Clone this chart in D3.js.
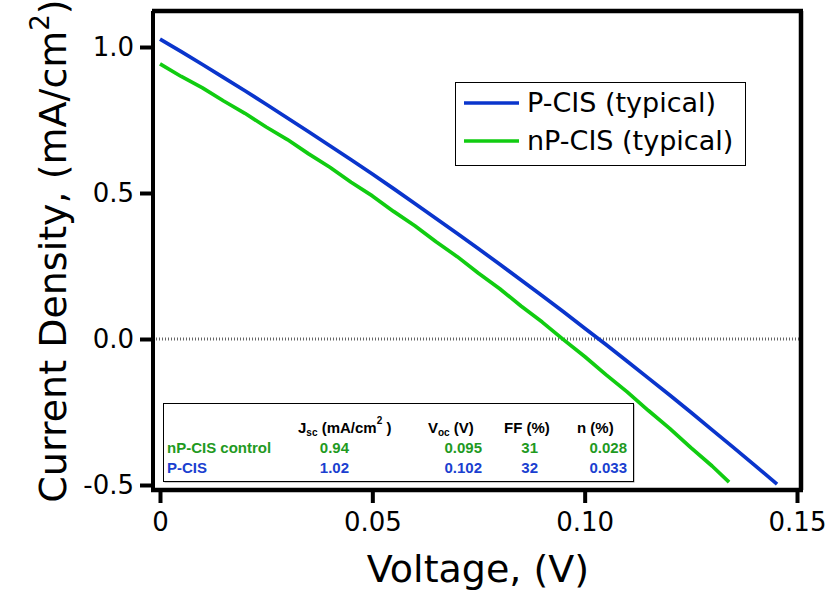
<!DOCTYPE html>
<html>
<head>
<meta charset="utf-8">
<script src="https://cdn.jsdelivr.net/npm/d3@7"></script>
<style>
  body { margin: 0; background: #fff; }
  svg { display: block; font-family: "DejaVu Sans", sans-serif; }
</style>
</head>
<body>
<div id="chart"></div>
<script>
// J-V curves
var pcisV = [0, 0.005, 0.01, 0.015, 0.02, 0.025, 0.03, 0.035, 0.04, 0.045, 0.05, 0.055, 0.06, 0.065, 0.07, 0.075, 0.08, 0.085, 0.09, 0.095, 0.10, 0.105, 0.11, 0.115, 0.12, 0.125, 0.13, 0.135, 0.14, 0.1453];
var pcisJ = [1.027, 0.984, 0.940, 0.895, 0.850, 0.804, 0.757, 0.710, 0.662, 0.614, 0.565, 0.515, 0.464, 0.413, 0.361, 0.309, 0.256, 0.202, 0.148, 0.093, 0.037, -0.019, -0.076, -0.134, -0.192, -0.251, -0.311, -0.371, -0.432, -0.497];

var npcisV = [0, 0.005, 0.01, 0.015, 0.02, 0.025, 0.03, 0.035, 0.04, 0.045, 0.05, 0.055, 0.06, 0.065, 0.07, 0.075, 0.08, 0.085, 0.09, 0.095, 0.10, 0.105, 0.11, 0.115, 0.12, 0.125, 0.13, 0.134];
var npcisJ = [0.942, 0.899, 0.860, 0.815, 0.773, 0.726, 0.683, 0.634, 0.588, 0.537, 0.490, 0.437, 0.388, 0.333, 0.282, 0.225, 0.172, 0.113, 0.058, -0.002, -0.060, -0.122, -0.181, -0.245, -0.306, -0.372, -0.435, -0.490];

var xTicks = [0, 0.05, 0.10, 0.15];
var xTickLabels = ["0", "0.05", "0.10", "0.15"];
var yTicks = [-0.5, 0, 0.5, 1.0];
var yTickLabels = ["-0.5", "0.0", "0.5", "1.0"];

var legendNames = ["P-CIS (typical)", "nP-CIS (typical)"];
var seriesColors = ["#0a35cc", "#11cc11"];

// table of cell parameters
var tableRows = ["nP-CIS control", "P-CIS"];
var tableColors = ["#1f9a1f", "#1a3fd0"];
var jscVals = ["0.94", "1.02"];
var vocVals = ["0.095", "0.102"];
var ffVals = ["31", "32"];
var etaVals = ["0.028", "0.033"];

var width = 832, height = 592;
var box = {left: 153, right: 801, top: 11, bottom: 490};

var x = d3.scaleLinear().domain([0, 0.15]).range([160, 797]);
var y = d3.scaleLinear().domain([-0.5, 1.0]).range([485, 47]);

var svg = d3.select("#chart").append("svg")
	.attr("width", width)
	.attr("height", height);

// zero line
svg.append("line")
	.attr("x1", box.left).attr("x2", box.right)
	.attr("y1", y(0)).attr("y2", y(0))
	.attr("stroke", "#666")
	.attr("stroke-width", 3)
	.attr("stroke-dasharray", "1,2");

// curves
var line = d3.line().x(d => x(d[0])).y(d => y(d[1]));
var series = [d3.zip(pcisV, pcisJ), d3.zip(npcisV, npcisJ)];

svg.append("g")
	.selectAll("path")
	.data(series)
	.join("path")
		.attr("d", line)
		.attr("fill", "none")
		.attr("stroke", (d, i) => seriesColors[i])
		.attr("stroke-width", 3.7)
		.attr("stroke-linejoin", "round");

// frame
svg.append("line").attr("x1", box.left - 1).attr("x2", box.right + 2).attr("y1", box.top).attr("y2", box.top)
	.attr("stroke", "#000").attr("stroke-width", 4.5);
svg.append("line").attr("x1", box.right).attr("x2", box.right).attr("y1", box.top).attr("y2", box.bottom)
	.attr("stroke", "#000").attr("stroke-width", 4.5);

// axes
var yAxis = d3.axisLeft(y)
	.tickValues(yTicks)
	.tickFormat((d, i) => yTickLabels[i])
	.tickSize(13)
	.tickSizeOuter(0)
	.tickPadding(6);

var xAxis = d3.axisBottom(x)
	.tickValues(xTicks)
	.tickFormat((d, i) => xTickLabels[i])
	.tickSize(13)
	.tickSizeOuter(0)
	.tickPadding(10);

var gy = svg.append("g")
	.attr("transform", `translate(${box.left},0)`)
	.call(yAxis);
gy.select(".domain").remove();
gy.append("line").attr("x1", 0).attr("x2", 0).attr("y1", box.top).attr("y2", box.bottom + 2)
	.attr("stroke", "#000").attr("stroke-width", 4);

var gx = svg.append("g")
	.attr("transform", `translate(0,${box.bottom})`)
	.call(xAxis);
gx.select(".domain").remove();
gx.append("line").attr("x1", box.left - 2).attr("x2", box.right + 2).attr("y1", 0).attr("y2", 0)
	.attr("stroke", "#000").attr("stroke-width", 4.5);

svg.selectAll(".tick line").attr("stroke", "#000").attr("stroke-width", 4);
svg.selectAll(".tick text")
	.attr("fill", "#000")
	.attr("font-size", 26)
	.attr("font-family", "DejaVu Sans, sans-serif");

// axis titles
svg.append("text")
	.attr("x", 478).attr("y", 582)
	.attr("text-anchor", "middle")
	.attr("font-size", 38)
	.text("Voltage, (V)");

var yt = svg.append("text")
	.attr("transform", "translate(66,251) rotate(-90)")
	.attr("text-anchor", "middle")
	.attr("font-size", 38);
yt.append("tspan").text("Current Density, (mA/cm");
yt.append("tspan").attr("dy", -17).attr("font-size", 26).text("2");
yt.append("tspan").attr("dy", 17).text(")");

// legend
var lg = svg.append("g");
lg.append("rect")
	.attr("x", 455.5).attr("y", 82.5).attr("width", 290).attr("height", 83)
	.attr("fill", "#fff").attr("stroke", "#000").attr("stroke-width", 1);
legendNames.forEach(function(name, i) {
	var ly = 103 + i * 38;
	lg.append("line").attr("x1", 464).attr("x2", 519).attr("y1", ly).attr("y2", ly)
		.attr("stroke", seriesColors[i]).attr("stroke-width", 3.7);
	lg.append("text").attr("x", 527).attr("y", ly + 9)
		.attr("font-size", 27).text(name);
});

// parameter table
var tb = svg.append("g")
	.attr("font-family", "Liberation Sans, Arial, sans-serif")
	.attr("font-weight", "bold")
	.attr("font-size", 15);
tb.append("rect")
	.attr("x", 164.5).attr("y", 404.5).attr("width", 470).attr("height", 78)
	.attr("fill", "#999");
tb.append("rect")
	.attr("x", 163.5).attr("y", 403.5).attr("width", 470).attr("height", 78)
	.attr("fill", "#fff").attr("stroke", "#000").attr("stroke-width", 1);

var h1 = tb.append("text").attr("x", 298).attr("y", 433);
h1.append("tspan").text("J");
h1.append("tspan").attr("font-size", 10).attr("dy", 3).text("sc");
h1.append("tspan").attr("dy", -3).text(" (mA/cm");
h1.append("tspan").attr("font-size", 10).attr("dy", -9).text("2");
h1.append("tspan").attr("dy", 9).text(" )");

var h2 = tb.append("text").attr("x", 428).attr("y", 433);
h2.append("tspan").text("V");
h2.append("tspan").attr("font-size", 10).attr("dy", 3).text("oc");
h2.append("tspan").attr("dy", -3).text(" (V)");

tb.append("text").attr("x", 504).attr("y", 433).text("FF (%)");
tb.append("text").attr("x", 577).attr("y", 433).text("n (%)");

tableRows.forEach(function(r, i) {
	var ry = 453 + i * 20;
	var c = tableColors[i];
	tb.append("text").attr("x", 167).attr("y", ry).attr("fill", c).text(r);
	tb.append("text").attr("x", 349).attr("y", ry).attr("fill", c).attr("text-anchor", "end").text(jscVals[i]);
	tb.append("text").attr("x", 482).attr("y", ry).attr("fill", c).attr("text-anchor", "end").text(vocVals[i]);
	tb.append("text").attr("x", 538).attr("y", ry).attr("fill", c).attr("text-anchor", "end").text(ffVals[i]);
	tb.append("text").attr("x", 627).attr("y", ry).attr("fill", c).attr("text-anchor", "end").text(etaVals[i]);
});
</script>
</body>
</html>
